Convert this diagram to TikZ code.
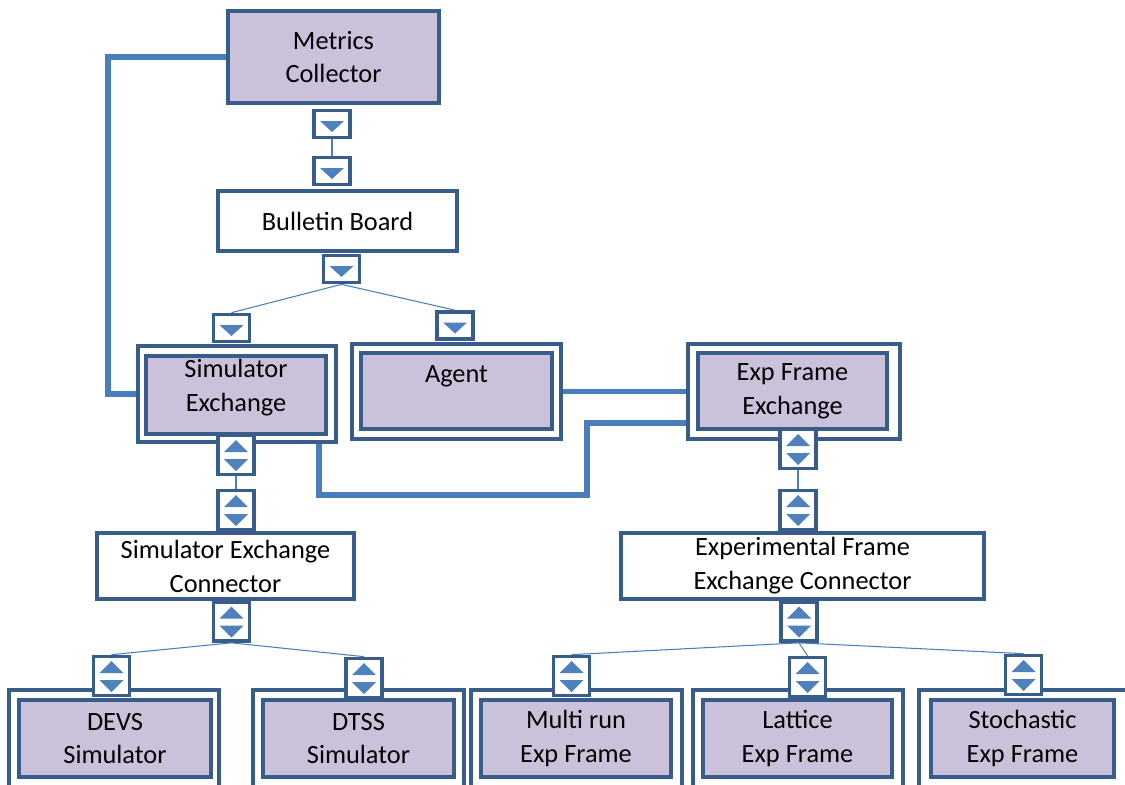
\documentclass[tikz,border=0pt]{standalone}
\usepackage{fontspec}
\setmainfont{Carlito}
\usepackage{tikz}
\usetikzlibrary{calc, positioning}
\definecolor{boxline}{HTML}{385D8A}
\definecolor{linkblue}{HTML}{4A7EBB}
\definecolor{tipblue}{HTML}{4F81BD}
\definecolor{boxfill}{HTML}{CCC1DA}
\newcommand{\boxfont}{\fontsize{15}{19.3}\selectfont}

\begin{document}
\begin{tikzpicture}[x=0.02cm, y=-0.02cm,
    box/.style={rectangle, draw=boxline, line width=2.1pt, fill=white, inner sep=0pt, align=center, font=\boxfont},
    unit/.style={box, fill=boxfill},
    port/.style={rectangle, draw=boxline, line width=2.1pt, fill=white, minimum width=0.72cm, inner sep=0pt},
    downport/.style={port, minimum height=0.54cm, path picture={\fill[tipblue] ($(path picture bounding box.center)+(-12,-3)$) -- ++(24,0) -- ++(-12,11) -- cycle;}},
    udport/.style={port, minimum height=0.78cm, path picture={
        \fill[tipblue] ($(path picture bounding box.center)+(-12,-3)$) -- ++(24,0) -- ++(-12,-12) -- cycle;
        \fill[tipblue] ($(path picture bounding box.center)+(-12,4)$) -- ++(24,0) -- ++(-12,12) -- cycle;}},
    wire/.style={draw=linkblue, line width=0.6pt},
    link/.style={draw=linkblue, line width=3.3pt}
]
\useasboundingbox (0,0) rectangle (1125,784);

% top column
\node[unit, minimum width=4.22cm, minimum height=1.84cm] (mc) at (333.5,57) {Metrics\\Collector};
\node[box, minimum width=4.78cm, minimum height=1.2cm] (bb) at (337.5,221) {Bulletin Board};

% exchanges
\node[box, minimum width=3.96cm, minimum height=1.92cm] (se) at (237,394) {};
\node[unit, minimum width=3.6cm, minimum height=1.56cm, text depth=0.37cm] (se-in) at (236,395) {Simulator\\Exchange};
\node[box, minimum width=4.18cm, minimum height=1.9cm] (ag) at (456.5,391.5) {};
\node[unit, minimum width=3.82cm, minimum height=1.52cm] (ag-in) at (456.5,391) {Agent\\~};
\node[box, minimum width=4.24cm, minimum height=1.9cm] (ef) at (794,391.5) {};
\node[unit, minimum width=3.78cm, minimum height=1.52cm] (ef-in) at (792.5,391) {Exp Frame\\Exchange};

% connectors
\node[box, minimum width=5.14cm, minimum height=1.32cm] (sec) at (225.5,566) {Simulator Exchange\\Connector};
\node[box, minimum width=7.26cm, minimum height=1.32cm] (efc) at (802.5,566) {Experimental Frame\\Exchange Connector};

% bottom row
\node[box, minimum width=4.2cm, minimum height=2.18cm] (devs) at (114,744.5) {};
\node[unit, minimum width=3.84cm, minimum height=1.54cm] (devs-in) at (115,738.5) {DEVS\\Simulator};
\node[box, minimum width=4.22cm, minimum height=2.18cm] (dtss) at (358.5,744.5) {};
\node[unit, minimum width=3.82cm, minimum height=1.54cm] (dtss-in) at (358.5,738.5) {DTSS\\Simulator};
\node[box, minimum width=4.22cm, minimum height=2.18cm] (mr) at (576.5,744.5) {};
\node[unit, minimum width=3.8cm, minimum height=1.54cm] (mr-in) at (576,738.5) {Multi run\\Exp Frame};
\node[box, minimum width=4.2cm, minimum height=2.18cm] (lt) at (798,744.5) {};
\node[unit, minimum width=3.78cm, minimum height=1.54cm] (lt-in) at (797.5,738.5) {Lattice\\Exp Frame};
\node[box, minimum width=4.2cm, minimum height=2.18cm] (st) at (1024,744.5) {};
\node[unit, minimum width=3.66cm, minimum height=1.54cm] (st-in) at (1022.5,738.5) {Stochastic\\Exp Frame};

% thick links
\coordinate (mc-bend) at (108,57);
\coordinate (se-bend) at (587,495);
\draw[link] (mc.west) -- (mc-bend) |- (se.west);
\draw[link] (ag.east) -- (ef.west);
\draw[link] ([xshift=-0.38cm]se.south east) |- (se-bend) |- ([yshift=-0.63cm]ef.west);

% ports
\node[downport] (mc-p) at (332,124) {};
\node[downport] (bb-p1) at (332,171) {};
\node[downport] (bb-p2) at (341.5,269) {};
\node[downport] (se-p1) at (231.5,328) {};
\node[downport] (ag-p) at (455,325.5) {};
\node[udport] (se-p2) at (236,455) {};
\node[udport] (se-p3) at (236,510) {};
\node[udport] (sec-p) at (231.5,621.5) {};
\node[udport] (ef-p1) at (798,449) {};
\node[udport] (ef-p2) at (798,510) {};
\node[udport] (efc-p) at (799,621.5) {};
\node[udport] (devs-p) at (111.5,676) {};
\node[udport] (dtss-p) at (364,678) {};
\node[udport] (mr-p) at (571.5,676) {};
\node[udport] (lt-p) at (807.5,677) {};
\node[udport] (st-p) at (1023.5,675) {};

% thin wires
\draw[wire] (mc-p) -- (bb-p1);
\draw[wire] (bb-p2.south) -- (se-p1.north);
\draw[wire] (bb-p2.south) -- (ag-p.north);
\draw[wire] (se-p2) -- (se-p3);
\draw[wire] (ef-p1) -- (ef-p2);
\draw[wire] (sec-p.south) -- (devs-p.north);
\draw[wire] (sec-p.south) -- (dtss-p.north);
\draw[wire] (efc-p.south) -- (mr-p.north);
\draw[wire] (efc-p.south) -- (lt-p.north);
\draw[wire] (efc-p.south) -- (st-p.north);

\end{tikzpicture}
\end{document}
